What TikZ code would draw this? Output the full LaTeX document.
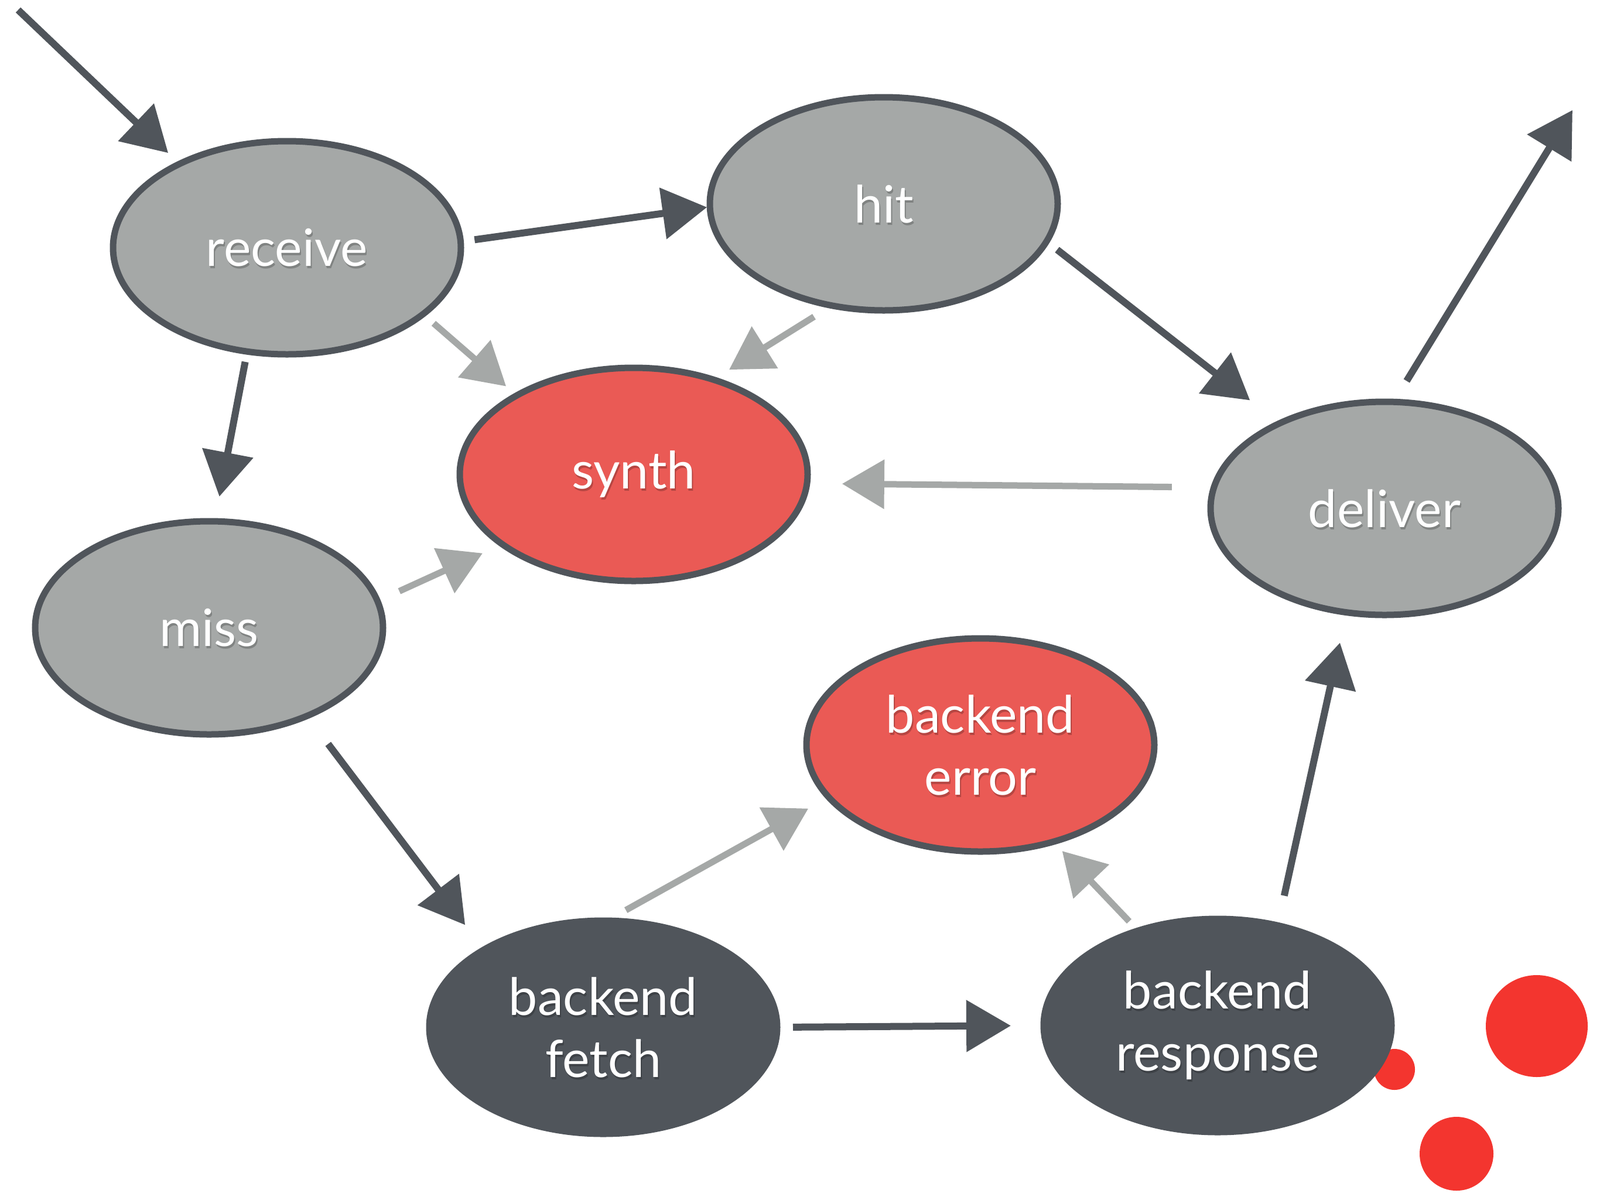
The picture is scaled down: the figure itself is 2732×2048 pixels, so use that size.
\documentclass[tikz,border=0pt]{standalone}
\usepackage{fontspec}
\setmainfont{Lato}
\usetikzlibrary{arrows.meta,shapes.geometric,decorations.pathmorphing}
\definecolor{ngrey}{HTML}{A5A8A7}
\definecolor{ndark}{HTML}{50555B}
\definecolor{nred}{HTML}{EA5A55}
\definecolor{dotred}{HTML}{F3352F}
\begin{document}
\begin{tikzpicture}[x=1pt,y=-1pt,
  base/.style={ellipse, minimum width=594pt, minimum height=364pt, inner sep=0pt, outer sep=0pt,
    draw=ndark, line width=11pt, text=white, align=center, font=\fontsize{88}{106}\selectfont,
    postaction={draw=ndark, line width=2pt, decorate,
      decoration={random steps, segment length=18pt, amplitude=3.5pt}}},
  greynode/.style={base, fill=ngrey},
  rednode/.style={base, fill=nred},
  darknode/.style={base, fill=ndark},
  txtshadow/.style={path picture={
      \node[text=black, opacity=.22, align=center, font=\fontsize{88}{106}\selectfont]
        at ([shift={(2pt,-4pt)}]path picture bounding box.center) {#1};}},
  darr/.style={draw=ndark, line width=12pt, -{Triangle[length=76pt,width=86pt]}},
  garr/.style={draw=ngrey, line width=11pt, -{Triangle[length=72pt,width=82pt]}},
  dot/.style={fill=dotred}
]
\useasboundingbox[fill=white] (0,0) rectangle (2732,2048);

% decorative dots (behind nodes)
\fill[dot] (2624,1752) circle[radius=87pt];
\fill[dot] (2381,1826) circle[radius=35pt];
\fill[dot] (2487,1970) circle[radius=63pt];

% nodes
\node[greynode, txtshadow={receive}] (receive) at (490,423) {receive};
\node[greynode, txtshadow={hit}] (hit) at (1509,348) {hit};
\node[rednode, txtshadow={synth}] (synth) at (1082,810) {synth};
\node[greynode, txtshadow={miss}] (miss) at (357,1072) {miss};
\node[greynode, txtshadow={deliver}] (deliver) at (2364,868) {deliver};
\node[rednode, txtshadow={backend\\error}] (berror) at (1674,1272) {backend\\error};
\node[darknode, txtshadow={backend\\fetch}] (bfetch) at (1030,1754) {backend\\fetch};
\node[darknode, txtshadow={backend\\response}] (bresp) at (2079,1751) {backend\\response};

\coordinate (entry) at (31,17);
\coordinate (exit) at (2685,188);

% connectors
\draw[darr, shorten >=27pt] (entry) -- (receive.142.5);
\draw[darr, shorten <=24pt, shorten >=5pt] (receive.2.5) -- (hit.181.1);
\draw[darr, shorten <=18pt, shorten >=43pt] (receive.-111.2) -- (miss.87);
\draw[garr, shorten <=24pt, shorten >=24pt] (receive.-26.7) -- (synth.146.1);
\draw[garr, shorten <=36pt, shorten >=32pt] (hit.-117.65) -- (synth.50.2);
\draw[darr, shorten <=23pt, shorten >=64pt] (hit.-13.7) -- (deliver.141.3);
\draw[darr, shorten <=42pt] (deliver.85.5) -- (exit);
\draw[garr, shorten <=72pt, shorten >=60pt] (deliver.173.8) -- (synth.-3.3);
\draw[garr, shorten <=41pt, shorten >=37pt] (miss.9) -- (synth.208.5);
\draw[darr, shorten <=60pt, shorten >=53pt] (miss.-42.3) -- (bfetch.147.7);
\draw[garr, shorten <=37pt, shorten >=40pt] (bfetch.88.7) -- (berror.199.9);
\draw[darr, shorten <=27pt, shorten >=56pt] (bfetch.-0.7) -- (bresp.180.8);
\draw[garr, shorten <=22pt, shorten >=22pt] (bresp.130.1) -- (berror.-53.7);
\draw[darr, shorten <=52pt, shorten >=53pt] (bresp.59.5) -- (deliver.250.6);
\end{tikzpicture}
\end{document}
